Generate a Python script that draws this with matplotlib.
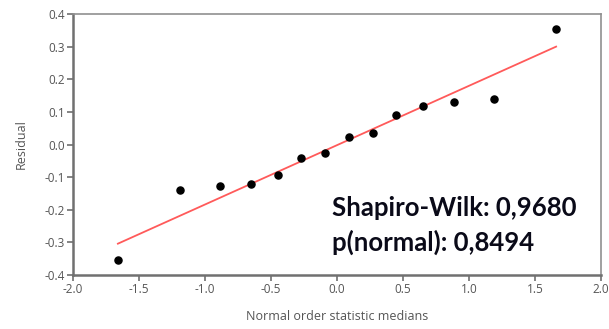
import numpy as np
import matplotlib.pyplot as plt

# Normal probability plot of residuals
osm = [-1.66, -1.19, -0.89, -0.65, -0.45, -0.27, -0.09,
       0.09, 0.27, 0.45, 0.65, 0.89, 1.19, 1.66]
residual = [-0.355, -0.140, -0.128, -0.120, -0.092, -0.040, -0.025,
            0.023, 0.035, 0.090, 0.119, 0.129, 0.139, 0.354]
# reference line end values at the first and last median
line_x = [-1.66, 1.66]
line_y = [-0.304, 0.300]
sw_stat = "0,9680"
p_normal = "0,8494"

xticks = np.arange(-2.0, 2.01, 0.5)
yticks = np.arange(-0.4, 0.41, 0.1)

fig = plt.figure(figsize=(6.09, 3.29), dpi=100)
ax = fig.add_axes([73/609, 54/329, 528/609, 261/329])

ax.plot(line_x, line_y, color="#ff5a5a", linewidth=1.3, zorder=2)
ax.scatter(osm, residual, s=26, color="black", zorder=3)

ax.set_xlim(-2.0, 2.0)
ax.set_ylim(-0.4, 0.4)
ax.set_xticks(xticks)
ax.set_yticks(yticks)
ax.set_xticklabels(["%.1f" % t for t in xticks])
ax.set_yticklabels(["%.1f" % (0.0 if abs(t) < 1e-9 else t) for t in yticks])

for side in ['left', 'bottom']:
    ax.spines[side].set_color('#707070')
    ax.spines[side].set_linewidth(1.8)
for side in ['top', 'right']:
    ax.spines[side].set_color('#909090')
    ax.spines[side].set_linewidth(1.2)
ax.tick_params(direction='out', length=4, width=1.2, color='#707070',
               labelcolor='#555555', labelsize=8.5, pad=2)
for lab in ax.get_xticklabels() + ax.get_yticklabels():
    lab.set_family('Open Sans')

ax.set_xlabel("Normal order statistic medians", fontsize=9, color='#555555',
              family='Open Sans', labelpad=10)
ax.set_ylabel("Residual", fontsize=9, color='#555555',
              family='Open Sans', labelpad=12)

ax.text(0.491, 0.19, "Shapiro-Wilk: " + sw_stat + "\np(normal): " + p_normal,
        transform=ax.transAxes, ha='left', va='center', fontsize=18.5,
        fontweight='bold', family='Lato', color='#0a0a18', linespacing=1.45)

plt.savefig("out.png", dpi=100)
